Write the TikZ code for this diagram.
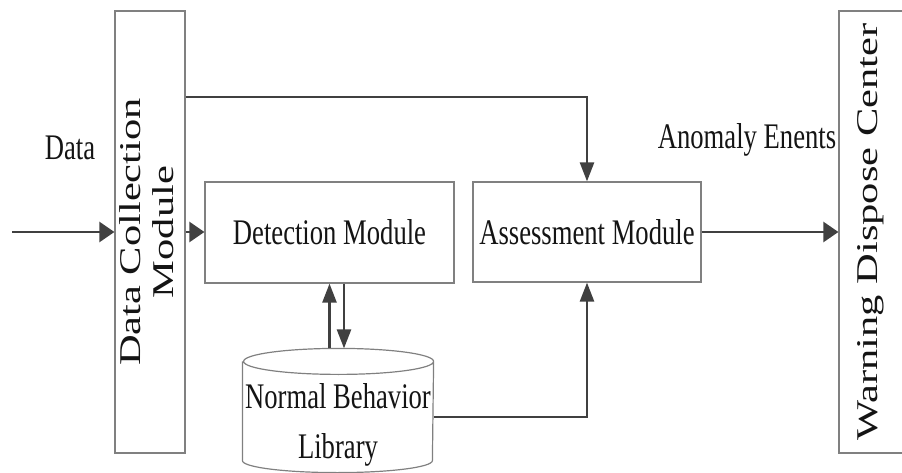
\documentclass[tikz,border=0pt]{standalone}
\usepackage{fontspec}
\setmainfont{Liberation Serif}
\usepackage{graphicx}
\usetikzlibrary{positioning,arrows.meta}
\definecolor{boxgray}{RGB}{128,128,128}
\definecolor{linegray}{RGB}{64,64,64}
\definecolor{txtgray}{RGB}{20,20,20}
\newcommand{\htext}[1]{\scalebox{0.74}[1]{#1}}
\newcommand{\vtext}[1]{\rotatebox{90}{\scalebox{1}[0.71]{\fontsize{42.5}{46.5}\selectfont\begin{tabular}{@{}c@{}}#1\end{tabular}}}}

\begin{document}
\begin{tikzpicture}[x=1pt, y=1pt,
  box/.style={draw=boxgray, line width=1.2pt, text=txtgray, inner sep=0pt, font=\fontsize{36}{50}\selectfont},
  tallbox/.style={box, minimum width=70pt, minimum height=442pt},
  link/.style={draw=linegray, line width=2.5pt},
  harr/.style={link, -{Triangle[length=15pt,width=20pt]}},
  varr/.style={link, -{Triangle[length=19pt,width=14pt]}},
  lbl/.style={text=txtgray, anchor=base, inner sep=0pt, font=\fontsize{36}{50}\selectfont}
]
\useasboundingbox (0,0) rectangle (902,472);

\node[tallbox] (dcm) at (150,240) {\vtext{Data Collection\\Module}};
\node[box, minimum width=249pt, minimum height=101pt] (det) at (329.5,239.5) {\htext{Detection Module}};
\node[box, minimum width=228pt, minimum height=100pt] (asm) at (587,240) {\htext{Assessment Module}};
\node[tallbox, minimum width=64pt] (wdc) at (871,240) {\vtext{Warning Dispose Center}};

% library drum
\node[box, draw=none, minimum width=190pt, minimum height=98pt, align=center,
  text height=96pt, text depth=2pt] (lib) at (338,61) {\htext{Normal Behavior}\\\htext{Library}};
\draw[draw=boxgray, line width=1.2pt] (lib.north west) -- (lib.south west)
  arc[start angle=180, end angle=360, x radius=95pt, y radius=12pt] -- (lib.north east)
  arc[start angle=0, end angle=180, x radius=95pt, y radius=13pt]
  arc[start angle=180, end angle=360, x radius=95pt, y radius=13pt];

\node[lbl] (datalbl) at (70,312) {\htext{Data}};
\node[lbl] (anomlbl) at (747,323) {\htext{Anomaly Enents}};

\coordinate (in) at (12,240);
\coordinate (libtop) at ([yshift=13pt]lib.north);
\coordinate (dn) at ([xshift=14.5pt]det.south);

\draw[harr] (in) -- (dcm.west);
\draw[harr] (dcm.east) -- (dcm.east -| det.west);
\draw[varr] ([yshift=135pt]dcm.east) -| (asm.north);
\draw[varr] (det.south |- libtop) -- (det.south);
\draw[varr] (dn) -- (dn |- libtop);
\draw[varr] ([yshift=-6pt]lib.east) -| (asm.south);
\draw[harr] (asm.east) -- (asm.east -| wdc.west);

\end{tikzpicture}
\end{document}
